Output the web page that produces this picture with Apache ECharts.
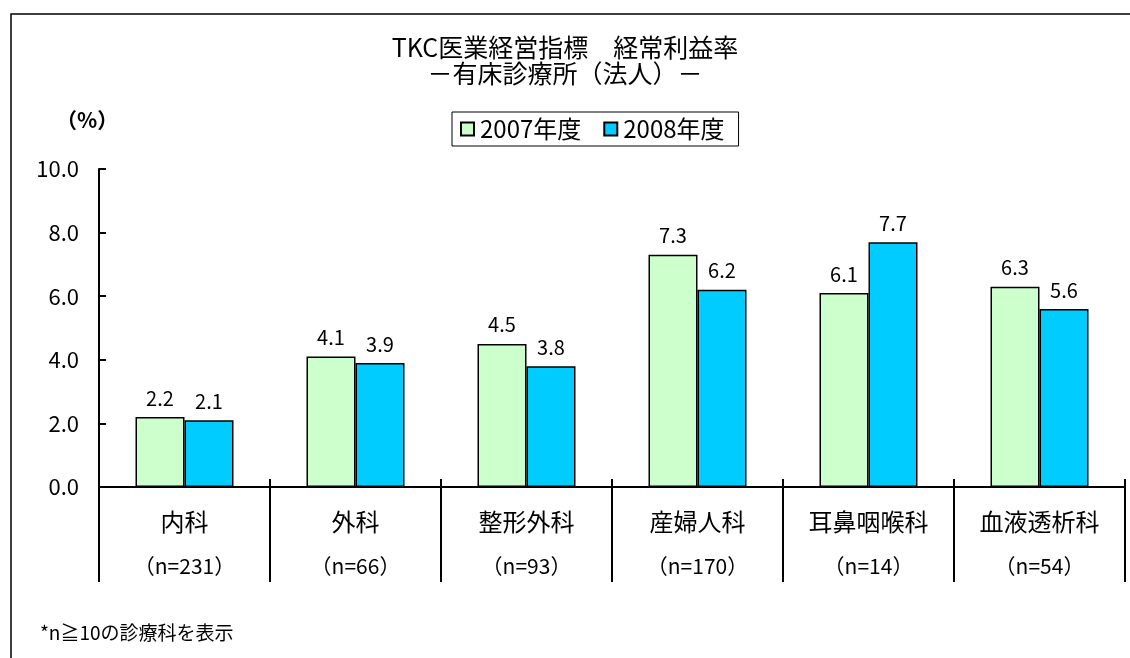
<!DOCTYPE html>
<html>
<head>
<meta charset="utf-8">
<script src="https://cdn.jsdelivr.net/npm/echarts@6/dist/echarts.min.js"></script>
<style>
  html, body { margin: 0; padding: 0; background: #fff; }
  #main { width: 1130px; height: 658px; }
</style>
</head>
<body>
<div id="main"></div>
<script>
// 診療科と件数
const categories = ['内科', '外科', '整形外科', '産婦人科', '耳鼻咽喉科', '血液透析科']
const counts = [231, 66, 93, 170, 14, 54]
// 経常利益率（%）
const values2007 = [2.2, 4.1, 4.5, 7.3, 6.1, 6.3]
const values2008 = [2.1, 3.9, 3.8, 6.2, 7.7, 5.6]
const yTicks = [0, 2, 4, 6, 8, 10]

const FONT = '"Noto Sans CJK JP", sans-serif'

const chart = echarts.init(document.getElementById('main'))

const barLabel = {
    show : true,
    position : 'top',
    distance : 9,
    color : '#000',
    fontSize : 20,
    fontFamily : FONT,
    formatter : p => p.value.toFixed(1)
}

const option = {
    backgroundColor : '#fff',
    animation : false,
    textStyle : { fontFamily : FONT },
    title : {
        text : 'TKC医業経営指標　経常利益率\n－有床診療所（法人）－',
        left : 'center',
        top : 29,
        textStyle : {
            fontSize : 25,
            fontWeight : 'normal',
            color : '#000',
            lineHeight : 26,
            fontFamily : FONT
        }
    },
    legend : {
        left : 452,
        top : 112,
        orient : 'horizontal',
        borderColor : '#000',
        borderWidth : 1,
        padding : [5, 14, 5, 8],
        itemGap : 22,
        itemWidth : 13,
        itemHeight : 13,
        icon : 'rect',
        textStyle : { fontSize : 24, color : '#000', fontFamily : FONT, padding : [0, 0, 0, 1] },
        data : ['2007年度', '2008年度']
    },
    grid : {
        left : 99,
        right : 5,
        top : 169,
        bottom : 171
    },
    xAxis : [
        {
            type : 'category',
            data : categories,
            position : 'bottom',
            axisLine : { lineStyle : { color : '#000', width : 2 } },
            axisTick : { show : true, length : 95, lineStyle : { color : '#000', width : 2 } },
            axisLabel : {
                margin : 12,
                interval : 0,
                formatter : (val, idx) => '{a|' + val + '}\n{b|（n=' + counts[idx] + '）}',
                rich : {
                    a : { fontSize : 24, lineHeight : 45, color : '#000', fontFamily : FONT },
                    b : { fontSize : 21, lineHeight : 45, color : '#000', fontFamily : FONT }
                }
            }
        },
        {
            type : 'category',
            data : categories,
            position : 'bottom',
            axisLine : { show : false },
            axisLabel : { show : false },
            axisTick : { show : true, inside : true, length : 8, lineStyle : { color : '#000', width : 2 } }
        }
    ],
    yAxis : {
        type : 'value',
        min : yTicks[0],
        max : yTicks[yTicks.length - 1],
        interval : 2,
        splitLine : { show : false },
        axisLine : { show : true, lineStyle : { color : '#000', width : 2 } },
        axisTick : { show : true, inside : true, length : 7, lineStyle : { color : '#000', width : 2 } },
        axisLabel : {
            margin : 20,
            fontSize : 22,
            color : '#000',
            fontFamily : FONT,
            formatter : v => v.toFixed(1)
        }
    },
    series : [
        {
            name : '2007年度',
            type : 'bar',
            xAxisIndex : 0,
            data : values2007,
            barWidth : 49,
            barGap : '0%',
            itemStyle : { color : '#CCFFCC', borderColor : '#000', borderWidth : 1.5 },
            label : barLabel
        },
        {
            name : '2008年度',
            type : 'bar',
            xAxisIndex : 0,
            data : values2008,
            barWidth : 49,
            barGap : '0%',
            itemStyle : { color : '#00CCFF', borderColor : '#000', borderWidth : 1.5 },
            label : barLabel
        }
    ],
    graphic : [
        {
            type : 'rect',
            shape : { x : 11, y : 14, width : 1200, height : 800 },
            style : { fill : null, stroke : '#000', lineWidth : 1.5 },
            silent : true
        },
        {
            type : 'text',
            left : 56,
            top : 110,
            style : { text : '（%）', fill : '#000', font : 'bold 21px ' + FONT }
        },
        {
            type : 'text',
            left : 40,
            top : 623,
            style : { text : '*n≧10の診療科を表示', fill : '#000', font : '19px ' + FONT }
        }
    ]
}

chart.setOption(option)
</script>
</body>
</html>
